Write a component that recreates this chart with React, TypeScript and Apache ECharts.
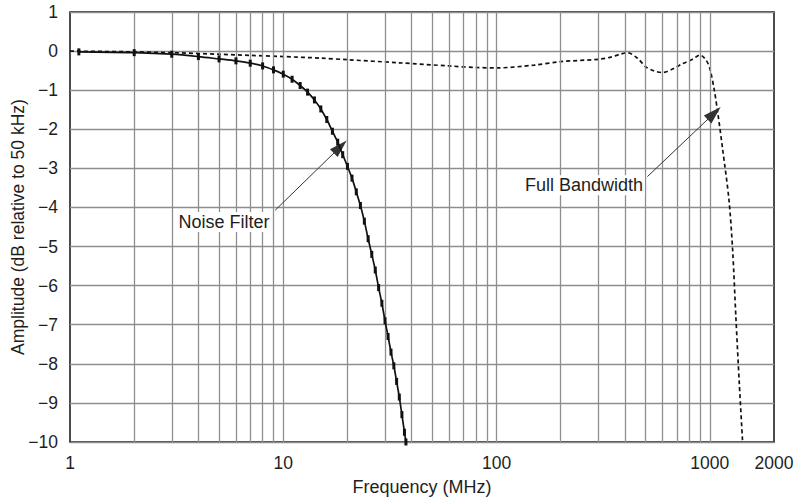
import React, { useEffect, useRef } from "react";
import * as echarts from "echarts";

const noiseFilterFreq = [1.1, 2, 3, 4, 5, 6, 7, 8, 9, 10, 11, 12, 13, 14, 15, 16, 17, 18, 19, 20, 21, 22, 23, 24, 25, 26, 27, 28, 29, 30, 31, 32, 33, 34, 35, 36, 37, 37.6];
const noiseFilterDb = [-0.02, -0.04, -0.08, -0.14, -0.2, -0.25, -0.31, -0.38, -0.48, -0.59, -0.72, -0.88, -1.05, -1.25, -1.48, -1.75, -2.05, -2.33, -2.65, -2.95, -3.25, -3.6, -3.95, -4.35, -4.8, -5.2, -5.6, -6.05, -6.45, -6.9, -7.3, -7.7, -8.05, -8.45, -8.85, -9.3, -9.75, -10];

const fullBwFreq = [1, 2, 3, 5, 7, 10, 15, 20, 35, 60, 80, 100, 150, 200, 300, 340, 380, 410, 460, 500, 550, 600, 680, 740, 830, 900, 960, 1000, 1050, 1090, 1150, 1230, 1280, 1325, 1375, 1425];
const fullBwDb = [0, -0.02, -0.04, -0.08, -0.11, -0.14, -0.18, -0.22, -0.3, -0.38, -0.42, -0.43, -0.36, -0.27, -0.21, -0.16, -0.08, -0.04, -0.19, -0.4, -0.51, -0.55, -0.44, -0.33, -0.21, -0.1, -0.23, -0.44, -1.0, -1.58, -2.53, -3.81, -5.1, -6.8, -8.5, -10];

const xLabelValues = [1, 10, 100, 1000, 2000];
const gridFreqs = [2, 3, 4, 5, 6, 7, 8, 9, 10, 20, 30, 40, 50, 60, 70, 80, 90, 100, 200, 300, 400, 500, 600, 700, 800, 900, 1000];

const noiseLabel = { text: "Noise Filter", at: [5.28, -4.37], arrowFrom: [9.17, -4.07], arrowTo: [18.5, -2.45] };
const fullLabel = { text: "Full Bandwidth", at: [257, -3.43], arrowFrom: [510, -3.21], arrowTo: [1048, -1.59] };

const FONT = "'Liberation Sans', Arial, Helvetica, sans-serif";
const TEXT = "#1e1e1e";
const GRID = "#8e8e8e";

export default function App() {
  const ref = useRef<HTMLDivElement>(null);
  useEffect(() => {
    if (!ref.current) return;
    const chart = echarts.init(ref.current, null, { renderer: "svg" });
    const fmtY = (v: number) => (v < 0 ? "\u2212" + Math.abs(v) : String(v));
    const annot = (a: any) => ({
      type: "line",
      data: [[a.at[0], a.at[1]]],
      showSymbol: false,
      symbolSize: 0,
      lineStyle: { width: 0 },
      z: 3,
      silent: true,
      markPoint: {
        symbol: "rect",
        symbolSize: 0,
        silent: true,
        data: [{ coord: a.at }],
        label: {
          show: true,
          position: "inside",
          formatter: a.text,
          fontSize: 18,
          fontFamily: FONT,
          color: TEXT,
          backgroundColor: "#fff",
          padding: [1, 2],
        },
      },
      markLine: {
        silent: true,
        animation: false,
        lineStyle: { color: "#333", width: 1, type: "solid" },
        label: { show: false },
        data: [
          [
            { coord: a.arrowFrom, symbol: "none" },
            { coord: a.arrowTo, symbol: "triangle", symbolSize: [11, 18] },
          ],
        ],
      },
    });
    chart.setOption({
      animation: false,
      backgroundColor: "#fff",
      grid: {
        left: 70, right: 25, top: 12, bottom: 58,
        show: true, borderColor: "#111", borderWidth: 1.5, backgroundColor: "transparent",
        containLabel: false, outerBoundsMode: "none",
      },
      xAxis: {
        type: "log",
        logBase: 10,
        min: 1,
        max: 2000,
        name: "Frequency (MHz)",
        nameLocation: "middle",
        nameGap: 36,
        nameMoveOverlap: false,
        nameTextStyle: { fontSize: 18, fontFamily: FONT, color: TEXT },
        axisLine: { show: false },
        axisTick: { show: false },
        splitLine: { show: false },
        axisLabel: {
          customValues: xLabelValues,
          formatter: (v: number) => String(Math.round(v)),
          fontSize: 17.5,
          fontFamily: FONT,
          color: TEXT,
          margin: 12,
        },
      },
      yAxis: {
        type: "value",
        min: -10,
        max: 1,
        interval: 1,
        name: "Amplitude (dB relative to 50 kHz)",
        nameLocation: "middle",
        nameGap: 43,
        nameMoveOverlap: false,
        nameTextStyle: { fontSize: 17.5, fontFamily: FONT, color: TEXT },
        axisLine: { show: false },
        axisTick: { show: false },
        splitLine: { show: true, lineStyle: { color: GRID, width: 1.3 } },
        axisLabel: { formatter: fmtY, fontSize: 17.5, fontFamily: FONT, color: TEXT, margin: 12 },
      },
      series: [
        {
          type: "line",
          data: [[1, 0]],
          showSymbol: false,
          lineStyle: { width: 0 },
          z: 1,
          silent: true,
          markLine: {
            silent: true,
            animation: false,
            symbol: ["none", "none"],
            label: { show: false },
            lineStyle: { color: GRID, width: 1.3, type: "solid" },
            data: gridFreqs.map((f) => ({ xAxis: f })),
          },
        },
        annot(noiseLabel),
        annot(fullLabel),
        {
          name: "Full Bandwidth",
          type: "line",
          data: fullBwFreq.map((f, i) => [f, fullBwDb[i]]),
          smooth: 0.3,
          showSymbol: false,
          z: 4,
          lineStyle: { color: "#111", width: 1.7, type: [4, 3] },
        },
        {
          name: "Noise Filter",
          type: "line",
          data: noiseFilterFreq.map((f, i) => [f, noiseFilterDb[i]]),
          smooth: 0.3,
          showSymbol: true,
          symbol: "rect",
          symbolSize: [3, 7],
          itemStyle: { color: "#111" },
          z: 5,
          lineStyle: { color: "#111", width: 1.7 },
        },
      ],
    });
    return () => chart.dispose();
  }, []);
  return <div ref={ref} style={{ position: "fixed", left: 0, top: 0, width: 799, height: 500 }} />;
}
